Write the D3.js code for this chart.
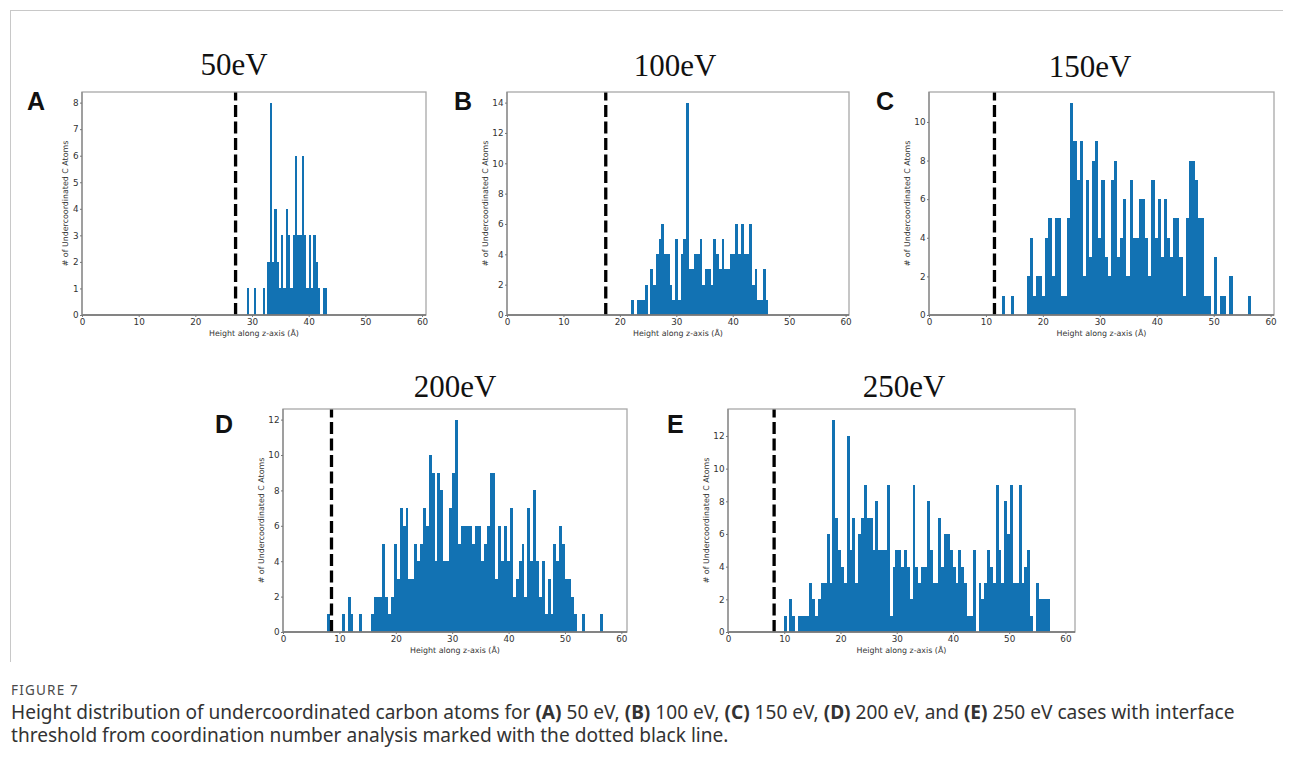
<!DOCTYPE html>
<html>
<head>
<meta charset="utf-8">
<script src="https://cdn.jsdelivr.net/npm/d3@7"></script>
<style>
  body { margin: 0; background: #fff; }
  svg { display: block; }
</style>
</head>
<body>
<svg id="fig" width="1293" height="771"></svg>
<script>
// ---- data: histograms of undercoordinated C atoms vs height (Å) ----
const energyTitles = ["50eV", "100eV", "150eV", "200eV", "250eV"];
const panelLetters = ["A", "B", "C", "D", "E"];
const thresholdHeights = [27.1, 17.5, 11.5, 8.6, 8.2];   // interface threshold (Å)
const binStarts = [29.05, 22.0, 12.76, 7.86, 9.9];        // left edge of first bin (Å)
const binWidths = [0.406, 0.486, 0.548, 0.514, 0.5095];   // bin width (Å)

const countsA = [1,0,0,1,0,0,0,1,0,2,8,2,4,2,1,3,1,4,3,1,3,6,3,3,6,3,1,3,1,3,2,1,0,1,1];

const countsB = [1,0,1,1,1,2,0,3,2,4,5,6,4,4,2,1,5,1,4,5,14,3,3,4,4,5,2,3,3,2,
                 5,4,3,5,3,3,4,4,6,4,6,4,4,6,2,3,1,1,3,1];

const countsC = [1,0,0,1,0,0,0,0,2,4,1,2,2,1,4,5,2,5,5,1,1,5,11,9,7,9,2,7,3,8,
                 9,4,7,3,2,7,8,3,4,6,2,7,4,4,6,6,4,2,7,4,6,3,6,4,3,5,5,3,1,5,
                 8,8,7,5,5,1,1,0,3,0,1,1,0,2,0,0,0,0,0,1];

const countsD = [1,0,0,0,0,1,0,2,1,0,0,1,0,0,0,1,2,2,2,5,2,1,2,5,3,7,6,7,3,3,
                 5,4,5,7,6,10,9,4,9,8,4,4,7,9,12,5,6,6,6,6,5,6,6,4,5,6,9,9,3,6,
                 4,6,4,7,2,3,4,5,2,7,4,8,4,2,4,1,3,1,5,4,6,5,3,3,2,1,0,0,1,0,
                 0,0,0,0,1];

const countsE = [1,0,2,1,0,1,1,1,1,3,2,1,2,3,3,6,3,13,7,5,4,3,12,5,7,3,6,7,9,7,
                 7,5,8,5,5,5,9,1,4,5,5,4,5,4,2,9,4,3,4,4,8,5,3,3,7,4,6,6,5,4,
                 3,5,4,3,1,1,5,0,3,2,3,5,4,3,9,5,3,8,6,9,3,3,9,3,4,5,1,0,3,2,
                 2,2,2];

const panelCounts = [countsA, countsB, countsC, countsD, countsE];

const xTickValues = [0, 10, 20, 30, 40, 50, 60];
const yTicksA = [0, 1, 2, 3, 4, 5, 6, 7, 8];
const yTicksB = [0, 2, 4, 6, 8, 10, 12, 14];
const yTicksC = [0, 2, 4, 6, 8, 10];
const yTicksD = [0, 2, 4, 6, 8, 10, 12];
const yTicksE = [0, 2, 4, 6, 8, 10, 12];
const panelYTicks = [yTicksA, yTicksB, yTicksC, yTicksD, yTicksE];

const xAxisLabel = "Height along z-axis (Å)";
const yAxisLabel = "# of Undercoordinated C Atoms";

// caption line 1 as word runs, [text, bold]; runs are separated by one space
const captionLine1 = [
  ["Height distribution of undercoordinated carbon atoms for", false],
  ["(A)", true], ["50 eV,", false], ["(B)", true], ["100 eV,", false],
  ["(C)", true], ["150 eV,", false], ["(D)", true], ["200 eV, and", false],
  ["(E)", true], ["250 eV cases with interface", false]
];
const captionLine2 = "threshold from coordination number analysis marked with the dotted black line.";

// ---- layout ----
const boxes = [
  { x: 82,  y: 92,  w: 344, h: 223, xMax: 60.7, titleX: 234,  titleY: 75,  letterX: 27,  letterY: 110 },
  { x: 507, y: 92,  w: 342, h: 223, xMax: 60.6, titleX: 675,  titleY: 76,  letterX: 454, letterY: 110 },
  { x: 929, y: 92,  w: 345, h: 223, xMax: 60.6, titleX: 1090, titleY: 77,  letterX: 876, letterY: 110 },
  { x: 283, y: 409, w: 344, h: 223, xMax: 61.0, titleX: 455,  titleY: 397, letterX: 215, letterY: 433 },
  { x: 728, y: 409, w: 347, h: 223, xMax: 61.7, titleX: 904,  titleY: 397, letterX: 667, letterY: 433 }
];

const barColor = "#1272b3";
const svg = d3.select("#fig");

// page frame rules
svg.append("line").attr("x1", 10).attr("x2", 1283).attr("y1", 10.5).attr("y2", 10.5)
  .attr("stroke", "#c8c8c8").attr("stroke-width", 1);
svg.append("line").attr("x1", 10.5).attr("x2", 10.5).attr("y1", 10).attr("y2", 662)
  .attr("stroke", "#c8c8c8").attr("stroke-width", 1);

boxes.forEach((b, p) => {
  const counts = panelCounts[p];
  const maxCount = d3.max(counts);
  const x = d3.scaleLinear().domain([0, b.xMax]).range([b.x, b.x + b.w]);
  const y = d3.scaleLinear().domain([0, maxCount * 1.05]).range([b.y + b.h, b.y]);
  const g = svg.append("g");

  // title and panel letter
  g.append("text").attr("x", b.titleX).attr("y", b.titleY)
    .attr("text-anchor", "middle")
    .attr("font-family", "'Liberation Serif', 'Times New Roman', serif")
    .attr("font-size", 31).attr("fill", "#111")
    .text(energyTitles[p]);
  g.append("text").attr("x", b.letterX).attr("y", b.letterY)
    .attr("font-family", "'Liberation Sans', Arial, sans-serif")
    .attr("font-weight", "bold").attr("font-size", 25).attr("fill", "#111")
    .text(panelLetters[p]);

  // histogram bars, snapped to whole pixels so neighbouring bins join seamlessly
  const bins = counts.map((c, i) => ({ x0: binStarts[p] + i * binWidths[p], x1: binStarts[p] + (i + 1) * binWidths[p], c }))
    .filter(d => d.c > 0);
  g.append("g").attr("shape-rendering", "crispEdges")
    .selectAll("rect").data(bins).join("rect")
    .attr("x", d => Math.round(x(d.x0)))
    .attr("width", d => Math.round(x(d.x1)) - Math.round(x(d.x0)))
    .attr("y", d => Math.round(y(d.c)))
    .attr("height", d => Math.round(y(0)) - Math.round(y(d.c)))
    .attr("fill", barColor);

  // threshold dashed line (drawn from the bottom up)
  g.append("line")
    .attr("x1", x(thresholdHeights[p])).attr("x2", x(thresholdHeights[p]))
    .attr("y1", y(0)).attr("y2", b.y)
    .attr("stroke", "#000").attr("stroke-width", 3.3)
    .attr("stroke-dasharray", "12,4.5");

  // frame
  g.append("rect").attr("x", b.x).attr("y", b.y).attr("width", b.w).attr("height", b.h)
    .attr("fill", "none").attr("stroke", "#a8a8a8").attr("stroke-width", 1.3);
  g.append("line").attr("x1", b.x).attr("x2", b.x + b.w).attr("y1", b.y + b.h).attr("y2", b.y + b.h)
    .attr("stroke", "#6e6e6e").attr("stroke-width", 1.3);
  g.append("line").attr("x1", b.x).attr("x2", b.x).attr("y1", b.y).attr("y2", b.y + b.h)
    .attr("stroke", "#8a8a8a").attr("stroke-width", 1.3);

  // axes
  const xAxis = d3.axisBottom(x).tickValues(xTickValues).tickSize(2).tickPadding(2).tickFormat(d3.format("d"));
  const yAxis = d3.axisLeft(y).tickValues(panelYTicks[p]).tickSize(2).tickPadding(1.5).tickFormat(d3.format("d"));
  const gx = g.append("g").attr("transform", `translate(0,${b.y + b.h})`).call(xAxis);
  const gy = g.append("g").attr("transform", `translate(${b.x},0)`).call(yAxis);
  [gx, gy].forEach(a => {
    a.select(".domain").remove();
    a.selectAll(".tick line").attr("stroke", "#777");
    a.selectAll(".tick text").attr("font-family", "'DejaVu Sans', sans-serif")
      .attr("font-size", 8.8).attr("fill", "#333");
  });

  // axis labels
  g.append("text").attr("x", b.x + b.w / 2).attr("y", b.y + b.h + 21)
    .attr("text-anchor", "middle")
    .attr("font-family", "'DejaVu Sans', sans-serif").attr("font-size", 7.9).attr("fill", "#333")
    .text(xAxisLabel);
  const digits = String(d3.max(panelYTicks[p])).length;
  const ylx = b.x - (9 + 5 * digits);
  g.append("text")
    .attr("transform", `translate(${ylx},${b.y + b.h / 2}) rotate(-90)`)
    .attr("text-anchor", "middle")
    .attr("font-family", "'DejaVu Sans', sans-serif").attr("font-size", 7.9).attr("fill", "#333")
    .text(yAxisLabel);
});

// caption
const cap = svg.append("g")
  .attr("font-family", "'Noto Sans', 'Open Sans', sans-serif").attr("fill", "#333");
cap.append("text").attr("x", 11).attr("y", 695).attr("font-size", 13.5).attr("letter-spacing", 1.2)
  .attr("fill", "#4a4a4a").text("FIGURE 7");

const capSize = 19.1;
const spaceWidth = capSize * 0.26;
let cursor = 11;
captionLine1.forEach(([s, bold]) => {
  const t = cap.append("text").attr("x", cursor).attr("y", 719).attr("font-size", capSize)
    .attr("font-weight", bold ? "bold" : "normal").text(s);
  cursor += t.node().getComputedTextLength() + spaceWidth;
});
cap.append("text").attr("x", 11).attr("y", 742).attr("font-size", capSize).text(captionLine2);
</script>
</body>
</html>
